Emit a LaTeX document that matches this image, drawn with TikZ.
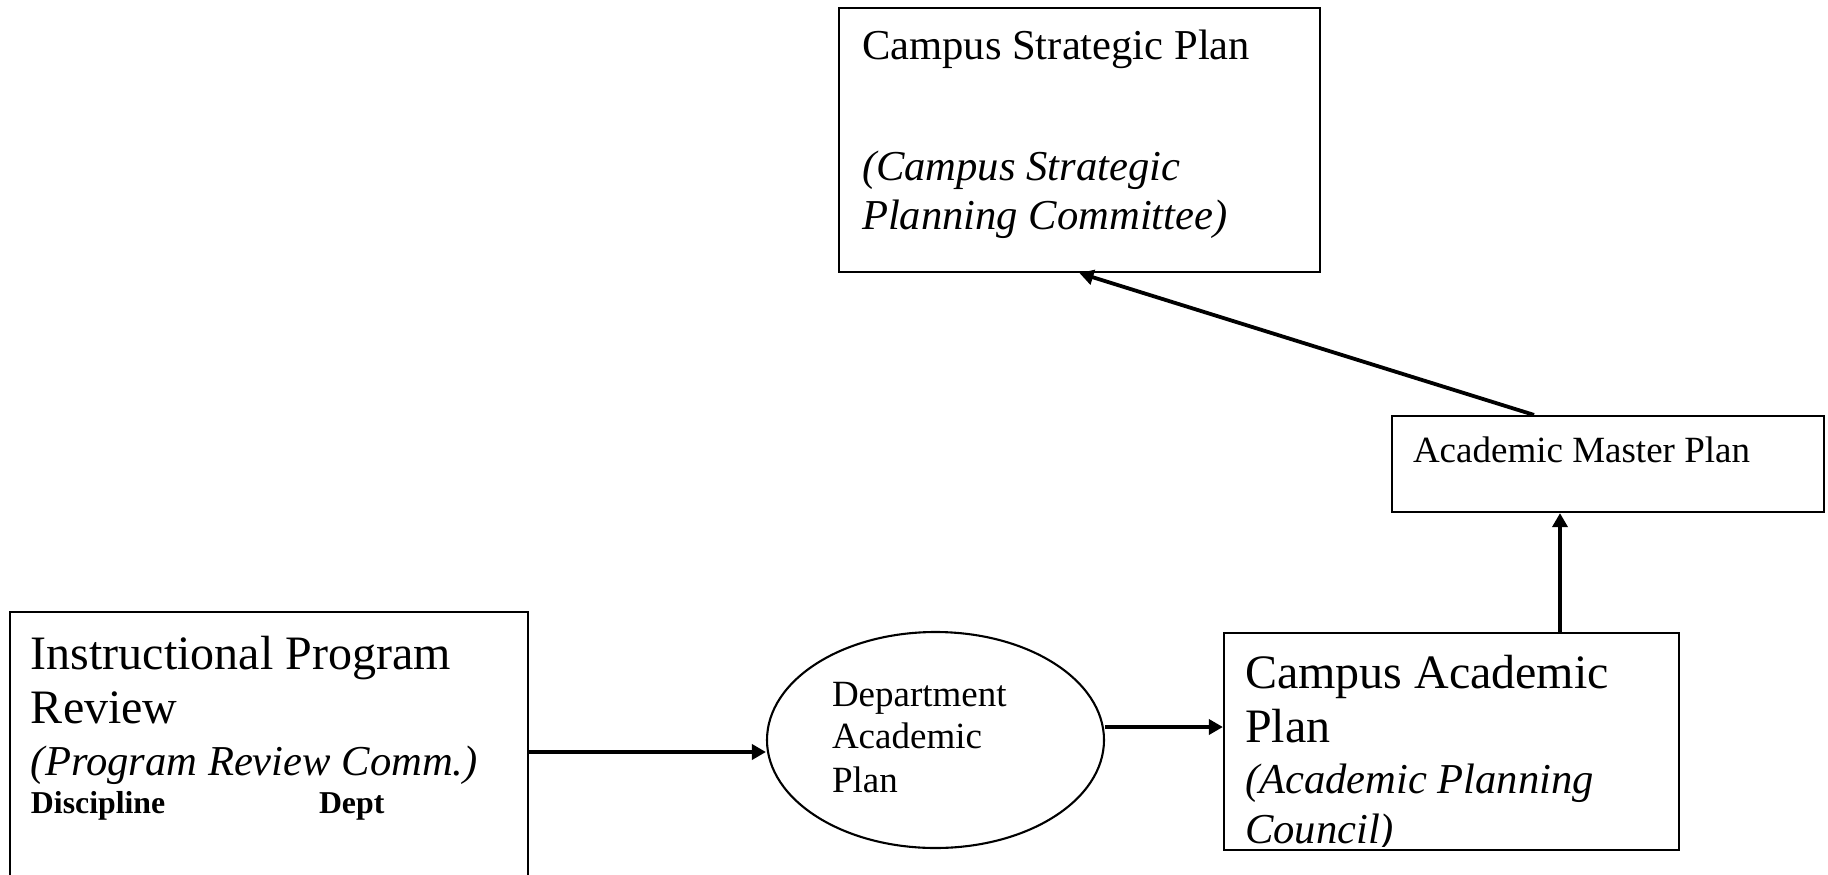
\documentclass[tikz,border=0pt]{standalone}
\usepackage{fontspec}
\setmainfont{Liberation Serif}
\usetikzlibrary{arrows.meta,shapes.geometric,calc}

\tikzset{
  box/.style={draw, line width=1.1pt, rectangle, inner sep=0pt},
  oval/.style={draw, line width=1.05pt, ellipse, inner sep=0pt},
  txt/.style={anchor=base west, inner sep=0pt, outer sep=0pt},
  conn/.style={line width=1.9pt, -{Triangle[length=7pt,width=7.5pt]}},
}
\newcommand{\szbig}{\fontsize{24pt}{28pt}\selectfont}
\newcommand{\szmid}{\fontsize{21.3pt}{25pt}\selectfont}
\newcommand{\szsml}{\fontsize{18.5pt}{22pt}\selectfont}
\newcommand{\sztny}{\fontsize{15.9pt}{19pt}\selectfont}

\begin{document}
\begin{tikzpicture}[x=0.5pt,y=-0.5pt]
  \useasboundingbox (0,0) rectangle (1828,874);
  \clip (0,0) rectangle (1828,874);
  \fill[white] (0,0) rectangle (1828,874);

  % boxes and the oval
  \node[box, minimum width=259pt, minimum height=154pt] (review) at (269,766) {};
  \node[box, minimum width=240.5pt, minimum height=132pt] (strategic) at (1079.5,140) {};
  \node[box, minimum width=216pt, minimum height=48pt] (master) at (1608,464) {};
  \node[box, minimum width=227.5pt, minimum height=108.5pt] (academic) at (1451.5,741.5) {};
  \node[oval, minimum width=168.5pt, minimum height=108pt] (dept) at (935.5,740) {};

  % texts of the program review box
  \node[txt] (t1) at (31,669) {\szbig Instructional Program};
  \node[txt] (t2) at (31,723) {\szbig Review};
  \node[txt] (t3) at (31,775) {\szmid\itshape (Program Review Comm.)};
  \node[txt] (t4) at (31,813) {\sztny\bfseries Discipline};
  \node[txt] (t5) at (319,813) {\sztny\bfseries Dept};

  % strategic plan box
  \node[txt] (s1) at (862,59) {\szmid Campus Strategic Plan};
  \node[txt] (s2) at (862,180) {\szmid\itshape (Campus Strategic};
  \node[txt] (s3) at (862,229) {\szmid\itshape Planning Committee)};

  % master plan box
  \node[txt] (m1) at (1413,462) {\szsml Academic Master Plan};

  % department oval
  \node[txt] (d1) at (832,706) {\szsml Department};
  \node[txt] (d2) at (832,748) {\szsml Academic};
  \node[txt] (d3) at (832,792) {\szsml Plan};

  % campus academic plan box, text cut just above the lower border
  \begin{scope}
    \clip (academic.north west) rectangle ($(academic.south east)+(0,-5)$);
    \node[txt] (a1) at (1245,688) {\szbig Campus Academic};
    \node[txt] (a2) at (1245,742) {\szbig Plan};
    \node[txt] (a3) at (1245,793) {\szmid\itshape (Academic Planning};
    \node[txt] (a4) at (1245,843) {\szmid\itshape Council)};
  \end{scope}

  % connectors
  \coordinate (ya) at (0,752);
  \coordinate (yb) at (0,727);
  \coordinate (xc) at (1560,0);
  \draw[conn] (review.east |- ya) -- (dept.west |- ya);
  \draw[conn] (dept.east |- yb) -- (academic.west |- yb);
  \draw[conn] (academic.north -| xc) -- (master.south -| xc);
  \draw[conn] ($(master.north)+(-74,0)$) -- (strategic.south);
\end{tikzpicture}
\end{document}
